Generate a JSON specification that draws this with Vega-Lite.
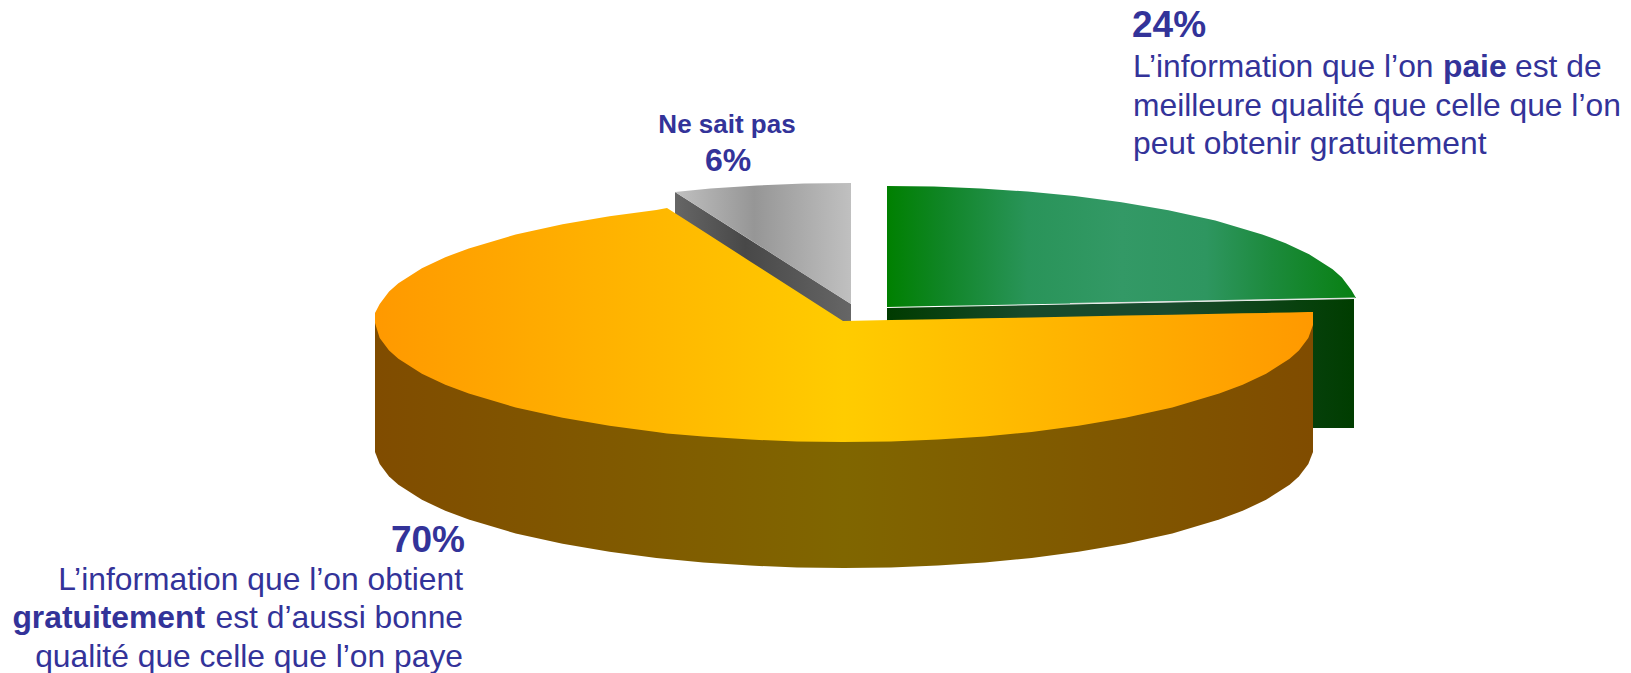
{
"$schema":"https://vega.github.io/schema/vega-lite/v6.json",
"width":1631,"height":673,"padding":0,
"autosize":"none",
"background":"white",
"config":{"view":{"stroke":null},"text":{"font":"Liberation Sans","fill":"#333399","baseline":"alphabetic"}},
"encoding":{
"x":{"field":"x","type":"quantitative","scale":{"domain":[0,1631],"nice":false,"zero":false},"axis":null},
"y":{"field":"y","type":"quantitative","scale":{"domain":[0,673],"nice":false,"zero":false,"reverse":true},"axis":null}
},
"layer":[
{"data":{"values":[{"x":675,"y":220,"y2":192},{"x":851,"y":330,"y2":304}]},
"mark":{"type":"area","color":{"gradient":"linear","x1":0,"x2":1,"y1":0,"y2":0,"stops":[{"offset":0,"color":"#666666"},{"offset":0.4,"color":"#484848"},{"offset":1,"color":"#666666"}]}},
"encoding":{"y2":{"field":"y2"}}},
{"data":{"values":[{"x":675,"y":192,"y2":192},{"x":710.3,"y":188.6,"y2":214.5},{"x":757.2,"y":185.4,"y2":244.3},{"x":804.1,"y":183.6,"y2":274.2},{"x":851,"y":183,"y2":304}]},
"mark":{"type":"area","color":{"gradient":"linear","x1":0,"x2":1,"y1":0,"y2":0,"stops":[{"offset":0,"color":"#c0c0c0"},{"offset":0.45,"color":"#969696"},{"offset":1,"color":"#c0c0c0"}]}},
"encoding":{"y2":{"field":"y2"}}},
{"data":{"values":[{"x":887,"y":308,"y2":428},{"x":1354,"y":299,"y2":428}]},
"mark":{"type":"area","color":{"gradient":"linear","x1":0,"x2":1,"y1":0,"y2":0,"stops":[{"offset":0,"color":"#003b00"},{"offset":0.3,"color":"#174a2c"},{"offset":0.6,"color":"#1a4a2e"},{"offset":1,"color":"#003d00"}]}},
"encoding":{"y2":{"field":"y2"}}},
{"data":{"values":[{"x":887,"y":186,"y2":307},{"x":933.9,"y":186.6,"y2":306.1},{"x":980.8,"y":188.4,"y2":305.2},{"x":1027.7,"y":191.6,"y2":304.3},{"x":1074.6,"y":196,"y2":303.4},{"x":1121.5,"y":202.2,"y2":302.5},{"x":1168.4,"y":210.2,"y2":301.6},{"x":1215.3,"y":220.6,"y2":300.7},{"x":1262.2,"y":234.4,"y2":299.8},{"x":1285.7,"y":243.2,"y2":299.3},{"x":1309.1,"y":254.2,"y2":298.9},{"x":1332.6,"y":269.2,"y2":298.4},{"x":1341.9,"y":277.6,"y2":298.2},{"x":1351.3,"y":289.9,"y2":298},{"x":1356,"y":298,"y2":298}]},
"mark":{"type":"area","color":{"gradient":"linear","x1":0,"x2":1,"y1":0,"y2":0,"stops":[{"offset":0,"color":"#008000"},{"offset":0.12,"color":"#108526"},{"offset":0.3,"color":"#299459"},{"offset":0.5,"color":"#339966"},{"offset":0.68,"color":"#2e9660"},{"offset":0.82,"color":"#1c8a3c"},{"offset":1,"color":"#088012"}]}},
"encoding":{"y2":{"field":"y2"}}},
{"data":{"values":[{"x":1070,"y":303.5},{"x":1355,"y":298}]},
"mark":{"type":"line","stroke":"#e4e4e4","strokeWidth":1}},
{"data":{"values":[{"x":375,"y":321,"y2":452},{"x":379.7,"y":321,"y2":464.1},{"x":389.1,"y":321,"y2":476.4},{"x":398.4,"y":321,"y2":484.8},{"x":421.9,"y":321,"y2":499.8},{"x":445.3,"y":321,"y2":510.8},{"x":468.8,"y":321,"y2":519.6},{"x":515.7,"y":321,"y2":533.4},{"x":562.6,"y":321,"y2":543.8},{"x":609.5,"y":321,"y2":551.8},{"x":656.4,"y":321,"y2":558},{"x":703.3,"y":321,"y2":562.4},{"x":750.2,"y":321,"y2":565.6},{"x":797.1,"y":321,"y2":567.4},{"x":844,"y":321,"y2":568},{"x":890.9,"y":321,"y2":567.4},{"x":937.8,"y":321,"y2":565.6},{"x":984.7,"y":321,"y2":562.4},{"x":1031.6,"y":321,"y2":558},{"x":1078.5,"y":321,"y2":551.8},{"x":1125.4,"y":321,"y2":543.8},{"x":1172.3,"y":321,"y2":533.4},{"x":1219.2,"y":321,"y2":519.6},{"x":1242.7,"y":321,"y2":510.8},{"x":1266.1,"y":321,"y2":499.8},{"x":1289.6,"y":321,"y2":484.8},{"x":1298.9,"y":321,"y2":476.4},{"x":1308.3,"y":321,"y2":464.1},{"x":1313,"y":321,"y2":452}]},
"mark":{"type":"area","color":{"gradient":"linear","x1":0,"x2":1,"y1":0,"y2":0,"stops":[{"offset":0,"color":"#804c00"},{"offset":0.5,"color":"#806600"},{"offset":1,"color":"#804c00"}]}},
"encoding":{"y2":{"field":"y2"}}},
{"data":{"values":[{"x":375,"y":313,"y2":323},{"x":379.7,"y":304,"y2":338},{"x":389.1,"y":291.6,"y2":350.4},{"x":398.4,"y":283.2,"y2":358.8},{"x":421.9,"y":268.2,"y2":373.8},{"x":445.3,"y":257.2,"y2":384.8},{"x":468.8,"y":248.4,"y2":393.6},{"x":515.7,"y":234.6,"y2":407.4},{"x":562.6,"y":224.2,"y2":417.8},{"x":609.5,"y":216.2,"y2":425.8},{"x":656.4,"y":210,"y2":432},{"x":667,"y":208,"y2":433.4},{"x":703.3,"y":231.3,"y2":436.4},{"x":750.2,"y":261.4,"y2":439.6},{"x":797.1,"y":291.5,"y2":441.4},{"x":843,"y":321,"y2":442},{"x":890.9,"y":320.1,"y2":441.4},{"x":937.8,"y":319.2,"y2":439.6},{"x":984.7,"y":318.3,"y2":436.4},{"x":1031.6,"y":317.4,"y2":432},{"x":1078.5,"y":316.5,"y2":425.8},{"x":1125.4,"y":315.6,"y2":417.8},{"x":1172.3,"y":314.7,"y2":407.4},{"x":1219.2,"y":313.8,"y2":393.6},{"x":1242.7,"y":313.3,"y2":384.8},{"x":1266.1,"y":312.9,"y2":373.8},{"x":1289.6,"y":312.4,"y2":358.8},{"x":1298.9,"y":312.2,"y2":350.4},{"x":1308.3,"y":312,"y2":338},{"x":1313,"y":312,"y2":325}]},
"mark":{"type":"area","color":{"gradient":"linear","x1":0,"x2":1,"y1":0,"y2":0,"stops":[{"offset":0,"color":"#ff9900"},{"offset":0.5,"color":"#ffcc00"},{"offset":1,"color":"#ff9900"}]}},
"encoding":{"y2":{"field":"y2"}}},
{"data":{"values":[{"x":1133,"y":77,"t":"L’information que l’on "},{"x":1515,"y":77,"t":"est de"},{"x":1133,"y":116,"t":"meilleure qualité que celle que l’on"},{"x":1133,"y":154,"t":"peut obtenir gratuitement"}]},
"mark":{"type":"text","align":"left","fontSize":31.8},
"encoding":{"text":{"field":"t"}}},
{"data":{"values":[{"x":1443,"y":77,"t":"paie"}]},
"mark":{"type":"text","align":"left","fontSize":31.8,"fontWeight":"bold"},
"encoding":{"text":{"field":"t"}}},
{"data":{"values":[{"x":463,"y":590,"t":"L’information que l’on obtient"},{"x":463,"y":628,"t":"est d’aussi bonne"},{"x":463,"y":667,"t":"qualité que celle que l’on paye"}]},
"mark":{"type":"text","align":"right","fontSize":31.8},
"encoding":{"text":{"field":"t"}}},
{"data":{"values":[{"x":205,"y":628,"t":"gratuitement"}]},
"mark":{"type":"text","align":"right","fontSize":31.8,"fontWeight":"bold"},
"encoding":{"text":{"field":"t"}}},
{"data":{"values":[{"x":1132,"y":37,"t":"24%"}]},
"mark":{"type":"text","align":"left","fontSize":37,"fontWeight":"bold"},
"encoding":{"text":{"field":"t"}}},
{"data":{"values":[{"x":465,"y":552,"t":"70%"}]},
"mark":{"type":"text","align":"right","fontSize":37,"fontWeight":"bold"},
"encoding":{"text":{"field":"t"}}},
{"data":{"values":[{"x":727,"y":133,"t":"Ne sait pas"}]},
"mark":{"type":"text","align":"center","fontSize":26,"fontWeight":"bold"},
"encoding":{"text":{"field":"t"}}},
{"data":{"values":[{"x":728,"y":171,"t":"6%"}]},
"mark":{"type":"text","align":"center","fontSize":32,"fontWeight":"bold"},
"encoding":{"text":{"field":"t"}}}
]
}
